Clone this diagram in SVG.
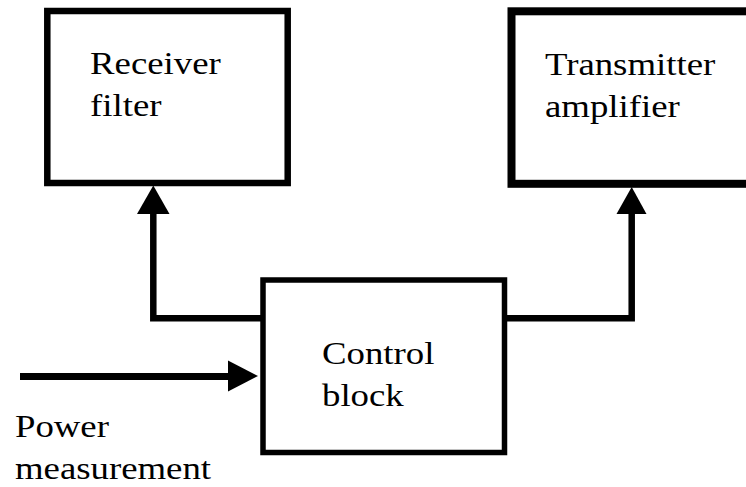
<svg xmlns="http://www.w3.org/2000/svg" width="746" height="487" viewBox="0 0 746 487">
  <style>
    .box { fill: #ffffff; stroke: #000000; }
    .wire { fill: none; stroke: #000000; stroke-linejoin: miter; stroke-linecap: butt; }
    .head { fill: #000000; stroke: none; }
    .label { font-family: "Liberation Serif", serif; font-size: 32px; fill: #000000; }
  </style>
  <rect x="0" y="0" width="746" height="487" fill="#ffffff"/>

  <!-- connectors -->
  <g id="connectors">
    <!-- control block to receiver filter -->
    <path class="wire" stroke-width="6.5" d="M263 318.3 H153.3 V212"/>
    <polygon class="head" points="153.3,185.5 137,214 169.5,214"/>
    <!-- control block to transmitter amplifier -->
    <path class="wire" stroke-width="6.5" d="M500 318.3 H631.7 V212"/>
    <polygon class="head" points="631.7,187 616.5,214 646.5,214"/>
    <!-- power measurement input -->
    <path class="wire" stroke-width="7" d="M20 376.5 H230"/>
    <polygon class="head" points="258,376 228,360.5 228,391.5"/>
  </g>

  <g id="receiver-filter">
    <rect class="box" x="47.3" y="11" width="240.4" height="172" stroke-width="6.5"/>
    <!-- labels use a horizontally widened serif face -->
    <g transform="scale(1.15 1)">
      <text class="label" x="78.3" y="74">Receiver</text>
      <text class="label" x="78.3" y="116">filter</text>
    </g>
  </g>

  <g id="transmitter-amplifier">
    <rect class="box" x="511.5" y="11.3" width="250" height="172.5" stroke-width="8"/>
    <g transform="scale(1.15 1)">
      <text class="label" x="473.9" y="75">Transmitter</text>
      <text class="label" x="473.9" y="117">amplifier</text>
    </g>
  </g>

  <g id="control-block">
    <rect class="box" x="263" y="280" width="241.5" height="172.5" stroke-width="5.5"/>
    <g transform="scale(1.15 1)">
      <text class="label" x="280" y="364">Control</text>
      <text class="label" x="280" y="406">block</text>
    </g>
  </g>

  <g id="power-measurement">
    <g transform="scale(1.15 1)">
      <text class="label" x="13" y="437">Power</text>
      <text class="label" x="13" y="479">measurement</text>
    </g>
  </g>
</svg>
